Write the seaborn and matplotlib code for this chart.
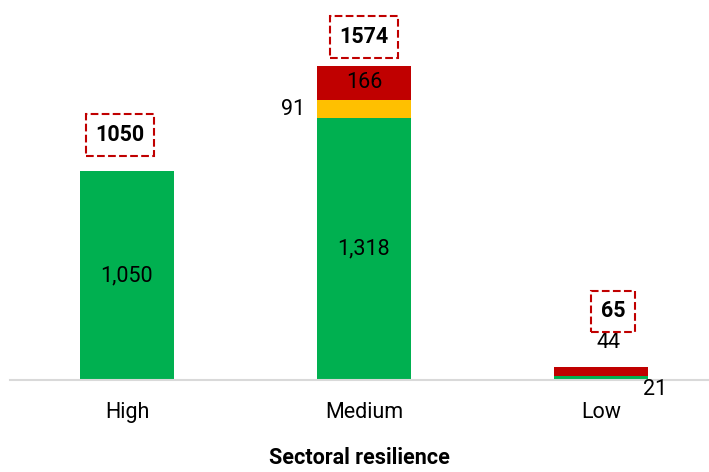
import pandas as pd
import matplotlib
matplotlib.use("Agg")
import matplotlib.pyplot as plt
import seaborn as sns

categories = ["High", "Medium", "Low"]
green_vals = [1050, 1318, 21]
yellow_vals = [0, 91, 0]
red_vals = [0, 166, 44]
totals = [1050, 1574, 65]

GREEN = "#00B050"
YELLOW = "#FFC000"
RED = "#C00000"

sns.set_style("white")
plt.rcParams["font.family"] = ["Roboto", "DejaVu Sans"]
plt.rcParams["text.color"] = "black"
plt.rcParams["xtick.color"] = "black"
plt.rcParams["axes.labelcolor"] = "black"

df = pd.DataFrame({"cat": categories, "green": green_vals,
                   "yellow": yellow_vals, "red": red_vals})
df["cum_green"] = df["green"]
df["cum_yellow"] = df["green"] + df["yellow"]
df["cum_red"] = df["cum_yellow"] + df["red"]

fig = plt.figure(figsize=(7.09, 4.72), dpi=100)
ax = fig.add_axes([0.014, 0.195, 0.986, 0.805])

# stacked bars: draw cumulative heights from top layer down
for col, c in [("cum_red", RED), ("cum_yellow", YELLOW), ("cum_green", GREEN)]:
    sns.barplot(data=df, x="cat", y=col, color=c, width=0.4, ax=ax,
                saturation=1, linewidth=0, order=categories)

ax.set_xlim(-0.494, 2.456)
ax.set_ylim(0, 1909)
ax.set_yticks([])
ax.set_ylabel("")
for s in ["top", "left", "right"]:
    ax.spines[s].set_visible(False)
ax.spines["bottom"].set_color("#d9d9d9")
ax.spines["bottom"].set_linewidth(1.5)
ax.tick_params(axis="x", length=0, labelsize=15.5, pad=16)
ax.set_xlabel("Sectoral resilience", fontsize=15.5, fontweight="bold", labelpad=17)

fs = 15.5
# segment labels
ax.text(0, green_vals[0] / 2, f"{green_vals[0]:,}", ha="center", va="center", fontsize=fs)
ax.text(1, green_vals[1] / 2, f"{green_vals[1]:,}", ha="center", va="center", fontsize=fs)
ax.text(1, df["cum_yellow"][1] + red_vals[1] / 2, f"{red_vals[1]}", ha="center", va="center", fontsize=fs)
ax.text(0.70, df["cum_yellow"][1] - 50, f"{yellow_vals[1]}", ha="center", va="center", fontsize=fs)
ax.text(2.03, 190, f"{red_vals[2]}", ha="center", va="center", fontsize=fs)
ax.text(2.23, -50, f"{green_vals[2]}", ha="center", va="center", fontsize=fs)

# totals in dashed boxes
box = dict(boxstyle="square,pad=0.45", fc="none", ec=RED, ls="--", lw=1.5)
ax.text(-0.03, totals[0] + 180, f"{totals[0]}", ha="center", va="center",
        fontsize=fs, fontweight="bold", bbox=box)
ax.text(1.0, totals[1] + 150, f"{totals[1]}", ha="center", va="center",
        fontsize=fs, fontweight="bold", bbox=box)
ax.text(2.05, totals[2] + 280, f"{totals[2]}", ha="center", va="center",
        fontsize=fs, fontweight="bold", bbox=box)

fig.savefig("out.png", dpi=100)
